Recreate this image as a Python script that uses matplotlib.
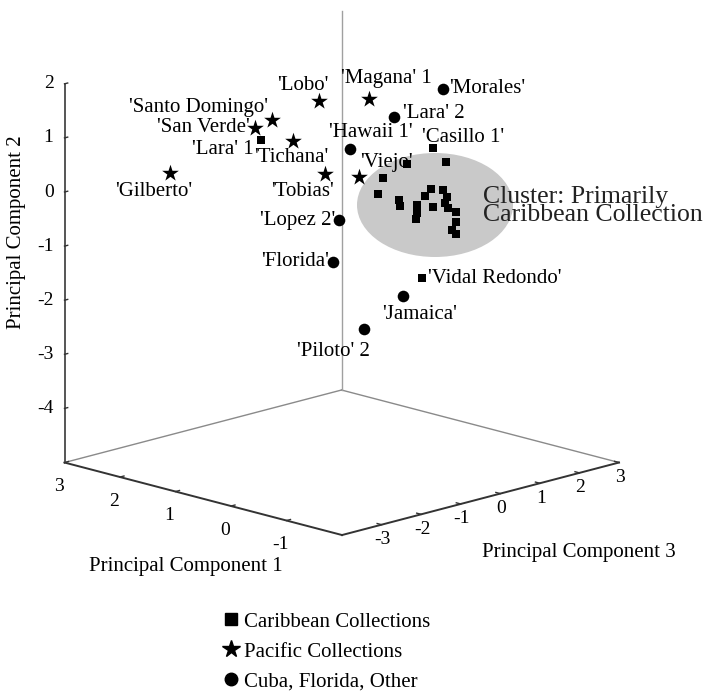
import numpy as np
import matplotlib.pyplot as plt
from matplotlib.patches import Ellipse
from matplotlib.lines import Line2D

plt.rcParams['font.family'] = ['Liberation Serif', 'DejaVu Serif']

# --- data (PC1, PC2, PC3 scores) ---
# Pacific collections (stars)
pac_names = ["'Lobo'", "'Magana' 1", "'Santo Domingo'", "'San Verde'",
             "'Tichana'", "'Gilberto'", "'Tobias'", "'Viejo'"]
pac_pc1 = [0.71, 0.25, 1.13, 1.28, 0.94, 2.05, 0.65, 0.34]
pac_pc2 = [1.68, 1.72, 1.33, 1.18, 0.94, 0.35, 0.33, 0.28]
pac_pc3 = [-0.79, -0.16, -1.38, -1.60, -1.12, -2.67, -0.71, -0.28]

# Cuba, Florida, other (circles)
oth_names = ["'Morales'", "'Lara' 2", "'Hawaii 1'", "'Lopez 2'",
             "'Florida'", "'Jamaica'", "'Piloto' 2"]
oth_pc1 = [-0.41, 0.03, 0.43, 0.52, 0.58, -0.05, 0.30]
oth_pc2 = [1.90, 1.39, 0.80, -0.52, -1.29, -1.92, -2.53]
oth_pc3 = [0.78, 0.16, -0.40, -0.53, -0.61, 0.27, -0.22]

# Caribbean collections (squares), first three labelled
car_names = ["'Lara' 1", "'Casillo 1'", "'Vidal Redondo'"]
car_pc1 = [1.23, -0.32, -0.22,
           -0.44, -0.09, 0.13, 0.17, -0.02, -0.03, -0.31, -0.25, -0.18, -0.18,
           -0.17, -0.32, -0.41, -0.45, -0.43, -0.46, -0.53, -0.53, -0.49, -0.53]
car_pc2 = [0.96, 0.81, -1.59,
           0.55, 0.52, 0.26, -0.04, -0.15, -0.26, 0.06, -0.07, -0.24, -0.39,
           -0.50, -0.28, 0.04, -0.09, -0.20, -0.30, -0.37, -0.55, -0.70, -0.78]
car_pc3 = [-1.52, 0.65, 0.51,
           0.82, 0.32, 0.02, -0.04, 0.22, 0.24, 0.63, 0.55, 0.45, 0.45,
           0.44, 0.65, 0.78, 0.83, 0.80, 0.84, 0.94, 0.94, 0.89, 0.94]

pc1_ticks = [3, 2, 1, 0, -1]
pc2_ticks = [2, 1, 0, -1, -2, -3, -4]
pc3_ticks = [-3, -2, -1, 0, 1, 2, 3]

# box limits
pc1_lim = (-2, 3)
pc2_lim = (-5, 2)
pc3_lim = (-4, 3)


def proj(pc1, pc2, pc3):
    # orthographic view, result in figure pixels
    pc1, pc2, pc3 = np.asarray(pc1, float), np.asarray(pc2, float), np.asarray(pc3, float)
    sx = 389.3 - 55.5 * pc1 + 39.57 * pc3
    sy = 194.1 - 14.5 * pc1 - 10.36 * pc3 - 54.1 * pc2
    return sx, sy


fig = plt.figure(figsize=(7.08, 7.0), dpi=100)
ax = fig.add_axes([0, 0, 1, 1])
ax.set_xlim(0, 708)
ax.set_ylim(700, 0)
ax.axis('off')

lo1, hi1 = pc1_lim
lo2, hi2 = pc2_lim
lo3, hi3 = pc3_lim

# back edges of the floor and back vertical
ax.plot(*proj([hi1, hi1], [lo2, lo2], [lo3, hi3]), color='#8a8a8a', lw=1.0)
ax.plot(*proj([hi1, lo1], [lo2, lo2], [hi3, hi3]), color='#8a8a8a', lw=1.0)
ax.plot(*proj([hi1, hi1], [lo2, hi2], [hi3, hi3]), color='#a0a0a0', lw=1.0)
# front axes
ax.plot(*proj([hi1, lo1], [lo2, lo2], [lo3, lo3]), color='#333333', lw=1.4)
ax.plot(*proj([lo1, lo1], [lo2, lo2], [lo3, hi3]), color='#333333', lw=1.4)
ax.plot(*proj([hi1, hi1], [lo2, hi2], [lo3, lo3]), color='#555555', lw=1.4)

# ticks and tick labels
for v in pc2_ticks:
    ax.plot(*proj([hi1, hi1], [v, v], [lo3, lo3 + 0.08]), color='#333333', lw=1)
    x, y = proj(hi1, v, lo3)
    ax.text(x - 11, y, str(v), ha='right', va='center', fontsize=14)
for v in pc1_ticks:
    ax.plot(*proj([v, v], [lo2, lo2], [lo3, lo3 + 0.1]), color='#333333', lw=1)
    x, y = proj(v, lo2, lo3)
    ax.text(x - 6, y + 24, str(v), ha='center', va='center', fontsize=14)
for v in pc3_ticks:
    ax.plot(*proj([lo1, lo1 + 0.08], [lo2, lo2], [v, v]), color='#333333', lw=1)
    x, y = proj(lo1, lo2, v)
    ax.text(x + 1, y + 15, str(v), ha='center', va='center', fontsize=14)

# axis titles
ax.text(17, 232, 'Principal Component 2', rotation=90, ha='center', va='center', fontsize=15)
ax.text(186, 567, 'Principal Component 1', ha='center', va='center', fontsize=15)
ax.text(579, 552, 'Principal Component 3', ha='center', va='center', fontsize=15)

# cluster highlight
ax.add_patch(Ellipse((435, 205), 156, 104, facecolor='#c9c9c9', edgecolor='none', zorder=1))
ax.text(483, 206, 'Cluster: Primarily\nCaribbean Collection', ha='left', va='center',
        fontsize=18.5, linespacing=0.82, color='#222222', zorder=2)

# points
sx, sy = proj(car_pc1, car_pc2, car_pc3)
ax.scatter(sx, sy, marker='s', s=40, c='black', linewidths=0, zorder=3)
car_xy = list(zip(sx, sy))
sx, sy = proj(pac_pc1, pac_pc2, pac_pc3)
ax.scatter(sx, sy, marker='*', s=160, c='black', linewidths=0, zorder=3)
pac_xy = list(zip(sx, sy))
sx, sy = proj(oth_pc1, oth_pc2, oth_pc3)
ax.scatter(sx, sy, marker='o', s=70, c='black', linewidths=0, zorder=3)
oth_xy = list(zip(sx, sy))

# label placement: (dx, dy, ha) in pixels from the marker
pac_off = [(-16, -16, 'center'), (17, -21, 'center'), (-4, -13, 'right'), (-5, -1, 'right'),
           (-39, 16, 'left'), (-16, 18, 'center'), (-23, 17, 'center'), (1, -14, 'left')]
oth_off = [(6, -1, 'left'), (9, -3, 'left'), (21, -16, 'center'), (-4, 0, 'right'),
           (-4, 0, 'right'), (17, 19, 'center'), (-31, 23, 'center')]
car_off = [(-7, 9, 'right'), (30, -11, 'center'), (6, 0, 'left')]

for names, xy, off in [(pac_names, pac_xy, pac_off), (oth_names, oth_xy, oth_off),
                       (car_names, car_xy, car_off)]:
    for name, (x, y), (dx, dy, ha) in zip(names, xy, off):
        ax.text(x + dx, y + dy, name, ha=ha, va='center', fontsize=15, zorder=4)

# legend
handles = [Line2D([], [], marker='s', ls='', color='black', markersize=9),
           Line2D([], [], marker='*', ls='', color='black', markersize=13),
           Line2D([], [], marker='o', ls='', color='black', markersize=9)]
labels = ['Caribbean Collections', 'Pacific Collections', 'Cuba, Florida, Other']
fig.legend(handles, labels, loc='upper left', bbox_to_anchor=(222 / 708, 1 - 612 / 700),
           frameon=False, fontsize=15, handletextpad=0.15, handlelength=0.9,
           labelspacing=0.5, borderpad=0, borderaxespad=0)

fig.savefig('out.png', dpi=100)
